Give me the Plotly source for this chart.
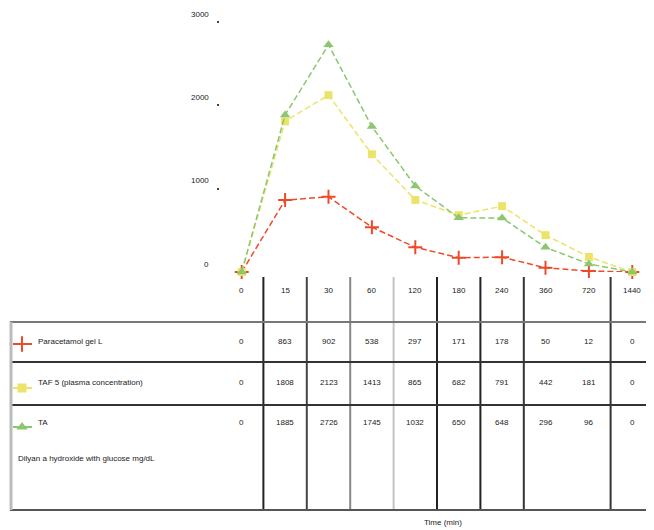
import plotly.graph_objects as go

categories = ["0", "15", "30", "60", "120", "180", "240", "360", "720", "1440"]
series_names = ["Paracetamol gel L", "TAF 5 (plasma concentration)", "TA"]
red_vals = [0, 863, 902, 538, 297, 171, 178, 50, 12, 0]
yellow_vals = [0, 1808, 2123, 1413, 865, 682, 791, 442, 181, 0]
green_vals = [0, 1885, 2726, 1745, 1032, 650, 648, 296, 96, 0]
y_ticks = [0, 1000, 2000, 3000]
note_text = "Dilyan a hydroxide with glucose mg/dL"
x_title = "Time (min)"

OFF = 8  # page body margin
W, H = 654 - OFF, 530 - OFF


def px(v):
    return v - OFF


def py(v):
    return v - OFF


colors = ["#ee4a2a", "#ece46a", "#8cc66e"]
symbols = ["cross-thin", "square", "triangle-up"]
sizes = [10, 8, 9]
series = [red_vals, yellow_vals, green_vals]

fig = go.Figure()
idx = list(range(len(categories)))
for vals, col, sym, sz in zip(series, colors, symbols, sizes):
    fig.add_trace(go.Scatter(
        x=idx, y=vals, mode="lines+markers", cliponaxis=False,
        line=dict(color=col, width=1.5, dash="6px,3px"),
        marker=dict(symbol=sym, size=sz, color=col, line=dict(color=col, width=2 if sym == "cross-thin" else 0)),
        xaxis="x", yaxis="y", hoverinfo="skip"))

# legend glyphs in table (pixel overlay axes)
row_y = [341, 382, 422]
glyph_y = [344, 388, 427]
for col, sym, sz, gy in zip(colors, symbols, sizes, glyph_y):
    fig.add_trace(go.Scatter(x=[px(13), px(32)], y=[py(gy), py(gy)], mode="lines", line=dict(color=col, width=2),
                             xaxis="x2", yaxis="y2", hoverinfo="skip"))
    fig.add_trace(go.Scatter(x=[px(22)], y=[py(gy)], mode="markers", cliponaxis=False,
                             marker=dict(symbol=sym, size=sz + 1, color=col, line=dict(color=col, width=2 if sym == "cross-thin" else 0)),
                             xaxis="x2", yaxis="y2", hoverinfo="skip"))

font = dict(family="Liberation Sans, Arial, sans-serif", size=8, color="#222")
ann = []
# y tick labels
for t in y_ticks:
    ann.append(dict(x=px(211), xref="x2", y=t, yref="y", text=str(t), showarrow=False,
                    xanchor="right", yanchor="middle", yshift=8, font=font))
# header row: categories
for i, c in enumerate(categories):
    ann.append(dict(x=i, xref="x", y=py(290), yref="y2", text=c, showarrow=False,
                    xanchor="center", yanchor="middle", font=font))
# value rows
for vals, ry, name in zip(series, row_y, series_names):
    for i, v in enumerate(vals):
        ann.append(dict(x=i, xref="x", y=py(ry), yref="y2", text=str(v), showarrow=False,
                        xanchor="center", yanchor="middle", font=font))
    ann.append(dict(x=px(36), xref="x2", y=py(ry), yref="y2", text=name, showarrow=False,
                    xanchor="left", yanchor="middle", font=font))
ann.append(dict(x=px(16), xref="x2", y=py(458), yref="y2", text=note_text, showarrow=False,
                xanchor="left", yanchor="middle", font=font))
ann.append(dict(x=px(443), xref="x2", y=py(522), yref="y2", text=x_title, showarrow=False,
                xanchor="center", yanchor="middle", font=font))

shapes = []
# vertical separators between categories
sep_colors = ["#222", "#444", "#888", "#c4c4c8", "#222", "#222", "#333", None, "#333"]
for i, sc in enumerate(sep_colors):
    if sc is None:
        continue
    shapes.append(dict(type="line", xref="x", yref="y2", x0=i + 0.5, x1=i + 0.5, y0=py(277), y1=py(510),
                       line=dict(color=sc, width=2)))
# horizontal table lines
for yy, lc in [(322, "#777"), (362, "#333"), (405, "#333"), (510, "#555")]:
    shapes.append(dict(type="line", xref="x2", yref="y2", x0=px(10), x1=px(654), y0=py(yy), y1=py(yy),
                       line=dict(color=lc, width=2)))
# left border
shapes.append(dict(type="line", xref="x2", yref="y2", x0=px(11), x1=px(11), y0=py(322), y1=py(510),
                   line=dict(color="#bbb", width=3)))

fig.update_layout(
    width=W, height=H, margin=dict(l=0, r=0, t=0, b=0),
    paper_bgcolor="white", plot_bgcolor="rgba(0,0,0,0)", showlegend=False,
    xaxis=dict(domain=[px(220) / W, 1.0], range=[-0.5, 9.5], showgrid=False, zeroline=False,
               showline=False, showticklabels=False, anchor="y"),
    yaxis=dict(domain=[(H - py(272)) / H, (H - py(22)) / H], range=[0, 3000], showgrid=False, zeroline=False,
               showline=False, showticklabels=False, ticks="outside", ticklen=2, tickwidth=2,
               tickcolor="#444", tickvals=y_ticks[1:], anchor="x"),
    xaxis2=dict(domain=[0, 1], range=[0, W], visible=False, anchor="y2"),
    yaxis2=dict(domain=[0, 1], range=[H, 0], visible=False, anchor="x2"),
    annotations=ann, shapes=shapes,
)
fig.write_html("out.html")
